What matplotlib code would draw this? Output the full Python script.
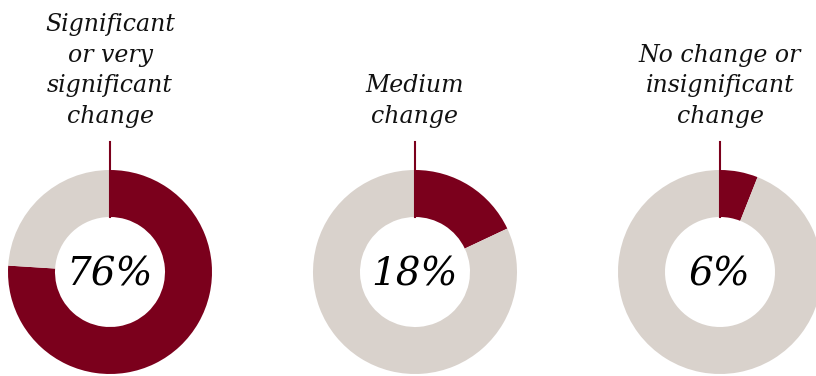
import matplotlib.pyplot as plt

# data
labels = ["Significant\nor very\nsignificant\nchange", "Medium\nchange", "No change or\ninsignificant\nchange"]
shares = [76, 18, 6]

RED = "#7B001C"
GREY = "#D9D2CC"

W, H = 816, 376
fig = plt.figure(figsize=(W / 100, H / 100), dpi=100)
ax = fig.add_axes([0, 0, 1, 1])

centers_x = [110, 415, 720]
cy = H - 272
r_out, r_in = 102, 55

for cx, lab, s in zip(centers_x, labels, shares):
    ax.pie([s, 100 - s], colors=[RED, GREY], startangle=90, counterclock=False,
           center=(cx, cy), radius=r_out, frame=True,
           wedgeprops=dict(width=r_out - r_in, edgecolor="none"))
    # leader line from label down to the inner ring
    ax.plot([cx, cx], [H - 142, cy + r_in], color=RED, lw=1.5, zorder=5)
    ax.text(cx, cy - 3, f"{s}%", ha="center", va="center", fontsize=28,
            family="DejaVu Serif", style="italic", color="black")
    ax.text(cx, H - 128, lab, ha="center", va="bottom", fontsize=17,
            family="DejaVu Serif", style="italic", linespacing=1.42, color="#111111")

ax.set_xlim(0, W)
ax.set_ylim(0, H)
ax.set_aspect("equal")
ax.axis("off")
fig.savefig("out.png", dpi=100)
